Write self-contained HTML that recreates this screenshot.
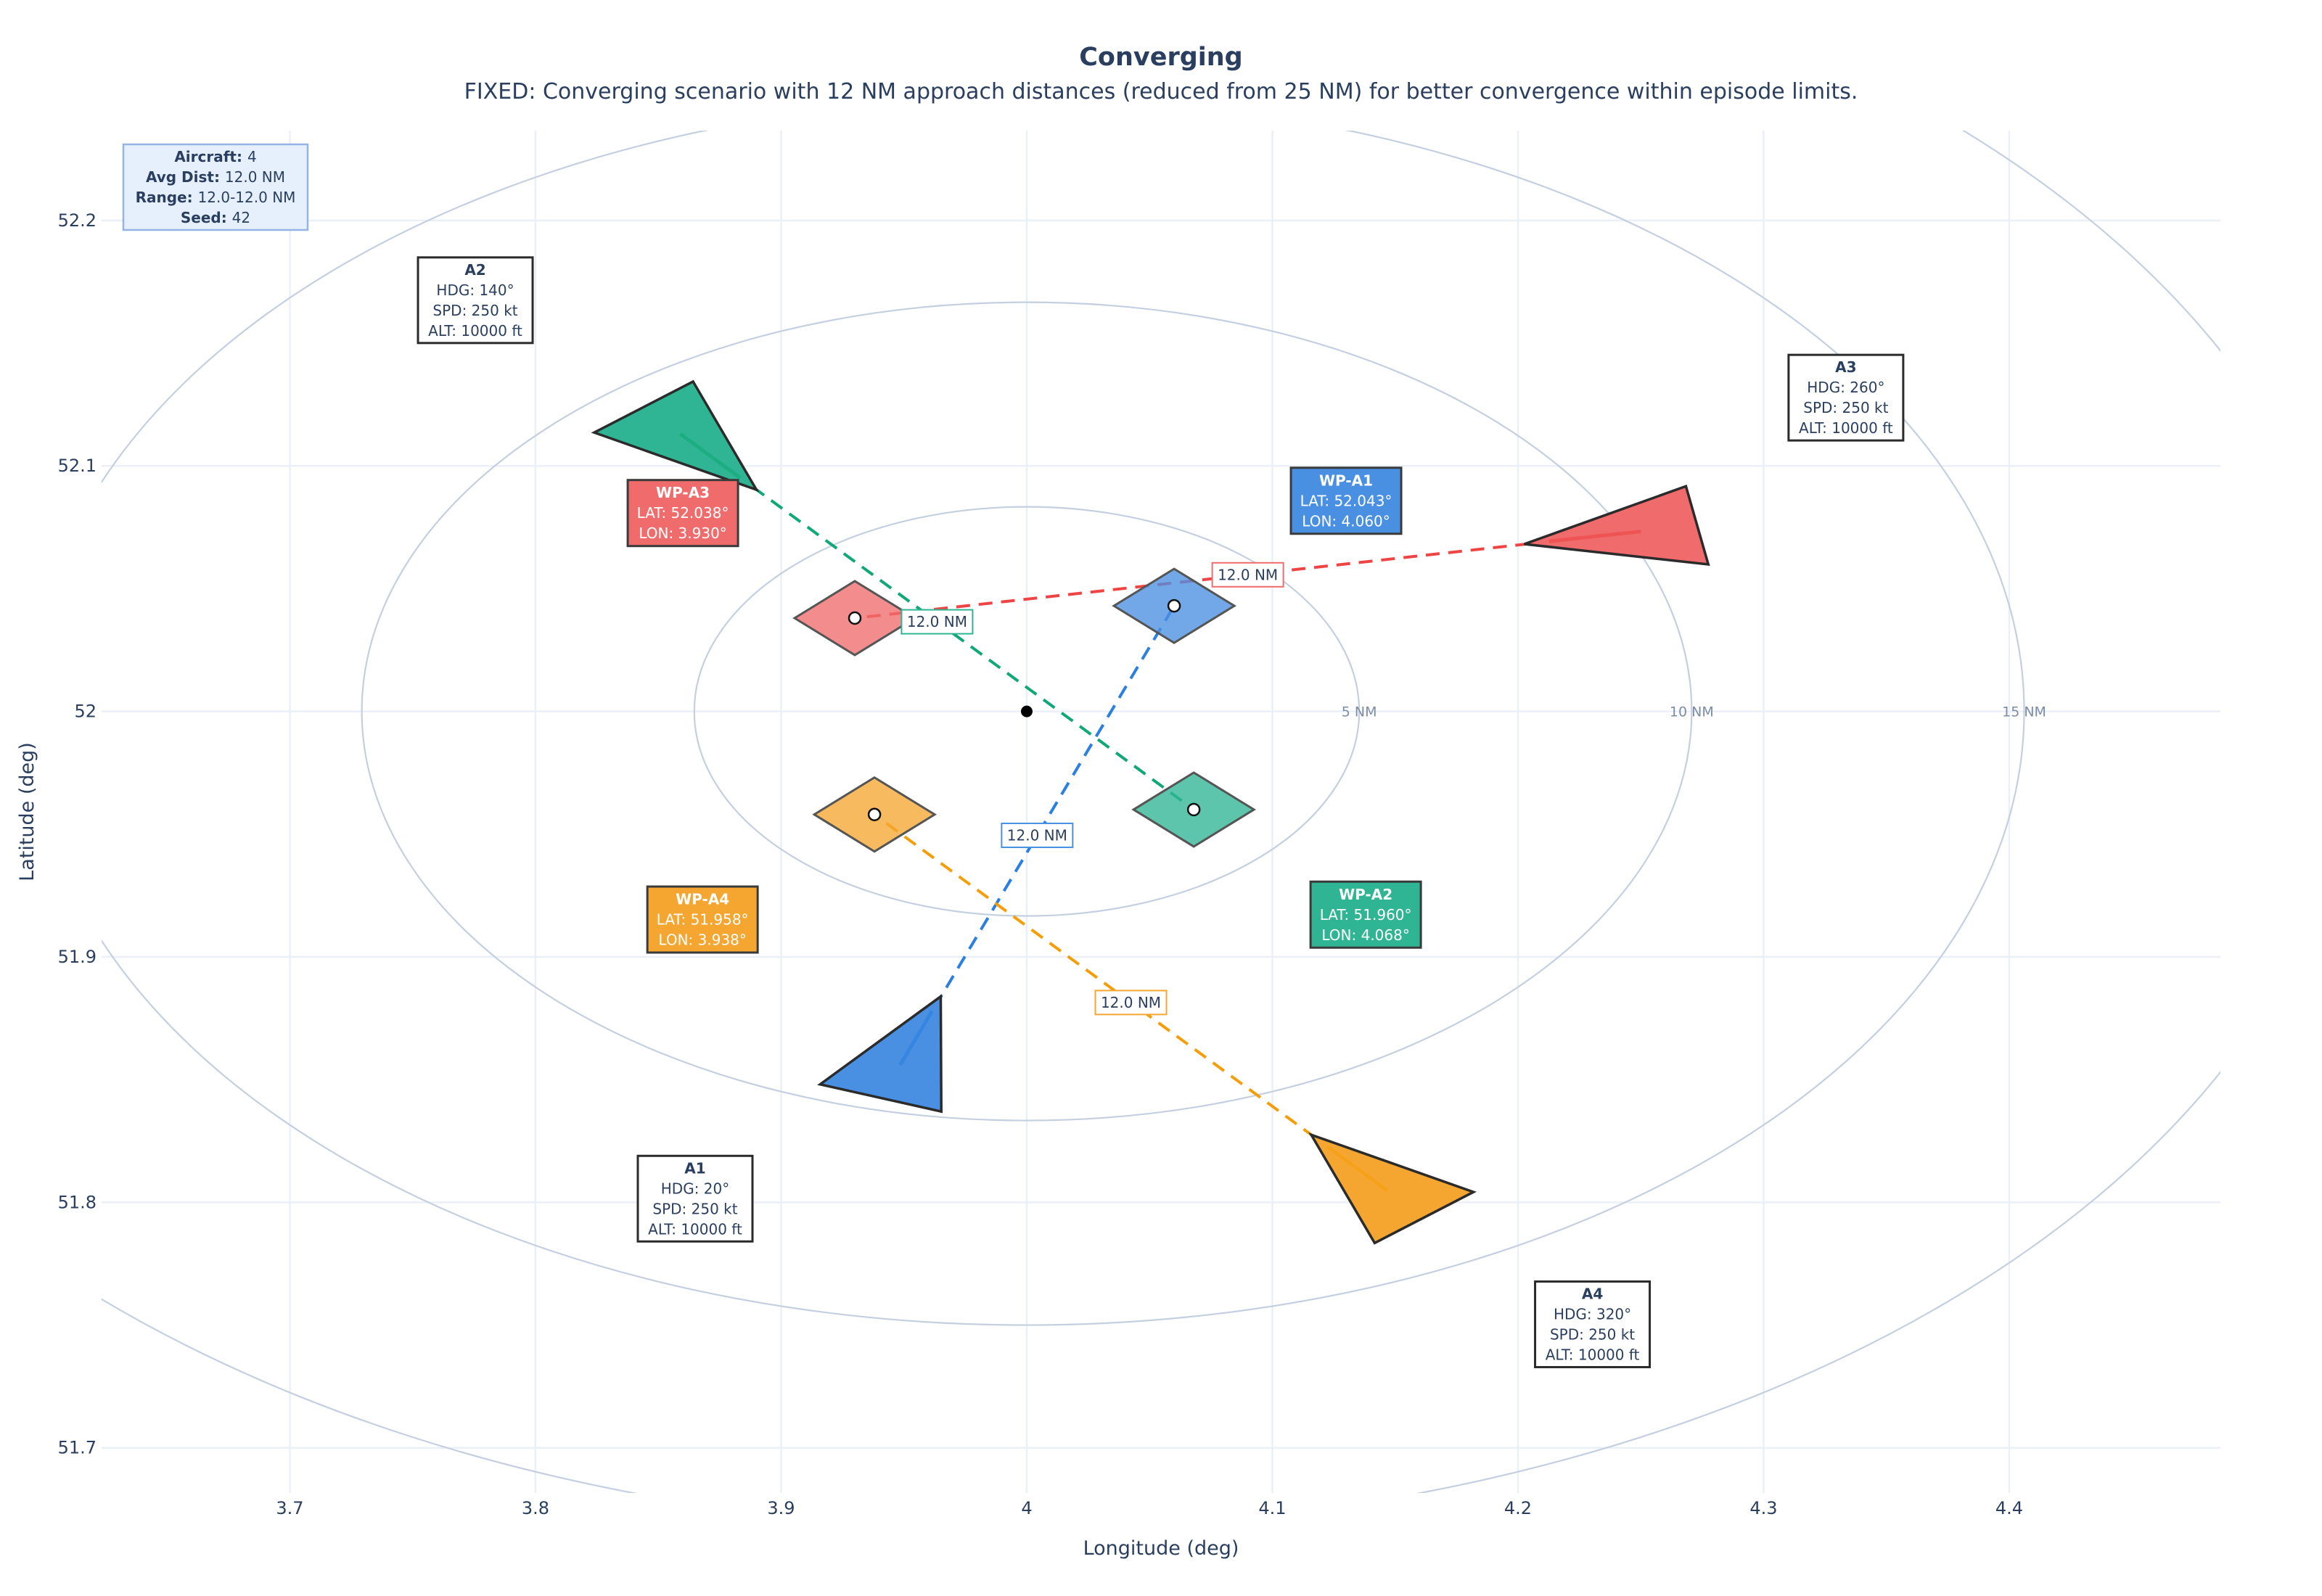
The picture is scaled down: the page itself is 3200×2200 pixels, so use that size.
<!DOCTYPE html>
<html><head><meta charset="utf-8"><title>Converging</title>
<style>
html,body{margin:0;padding:0;background:#fff;}
svg{display:block;font-family:"DejaVu Sans","Liberation Sans",sans-serif;}
</style></head>
<body>
<svg id="chart" width="3200" height="2200" viewBox="0 0 3200 2200" xmlns="http://www.w3.org/2000/svg">
<defs><clipPath id="plotclip"><rect x="140" y="180" width="2920" height="1878"/></clipPath></defs>
<text x="1600" y="90" text-anchor="middle" font-size="35" font-weight="bold" fill="#2a3f5f">Converging</text>
<text x="1600" y="136" text-anchor="middle" font-size="30" fill="#2a3f5f">FIXED: Converging scenario with 12 NM approach distances (reduced from 25 NM) for better convergence within episode limits.</text>
<g id="grid"></g>
<g id="rings" clip-path="url(#plotclip)"></g>
<g id="ticks"></g>
<g id="marks" clip-path="url(#plotclip)"></g>
<g id="notes"></g>
<text x="1600" y="2143" text-anchor="middle" font-size="27" fill="#2a3f5f">Longitude (deg)</text>
<text x="0" y="0" transform="translate(46,1119) rotate(-90)" text-anchor="middle" font-size="27" fill="#2a3f5f">Latitude (deg)</text>
</svg>
<script>
const xTicks = [3.7, 3.8, 3.9, 4.0, 4.1, 4.2, 4.3, 4.4];
const xTickLabels = ["3.7", "3.8", "3.9", "4", "4.1", "4.2", "4.3", "4.4"];
const yTicks = [51.7, 51.8, 51.9, 52.0, 52.1, 52.2];
const yTickLabels = ["51.7", "51.8", "51.9", "52", "52.1", "52.2"];
const ringRadiiNM = [5, 10, 15, 20];
const ringLabels = ["5 NM", "10 NM", "15 NM", ""];
const aircraftIds = ["A1", "A2", "A3", "A4"];
const aircraftLon = [3.9485, 3.859, 4.250, 4.1468];
const aircraftLat = [51.856, 52.113, 52.0733, 51.8048];
const aircraftHdg = [20, 140, 260, 320];
const aircraftSpd = [250, 250, 250, 250];
const aircraftAlt = [10000, 10000, 10000, 10000];
const wpLon = [4.060, 4.068, 3.930, 3.938];
const wpLat = [52.043, 51.960, 52.038, 51.958];
const distNM = [12.0, 12.0, 12.0, 12.0];
const centerLon = 4.0, centerLat = 52.0;

const colors = ["#4a90e2", "#2fb593", "#f06b6b", "#f5a631"];
const lineColors = ["#2a7fe0", "#10a876", "#ef4444", "#f59e0b"];
const X0 = 140, X1 = 3060, Y0 = 180, Y1 = 2058;
const LON0 = 3.62335, LON1 = 4.48597, LAT0 = 51.6816, LAT1 = 52.2366;
const xs = v => X0 + (v - LON0) / (LON1 - LON0) * (X1 - X0);
const ys = v => Y1 - (v - LAT0) / (LAT1 - LAT0) * (Y1 - Y0);
const NS = "http://www.w3.org/2000/svg";
const COSL = Math.cos(52 * Math.PI / 180);
function mk(tag, attrs, parent, text) {
  const e = document.createElementNS(NS, tag);
  for (const k in attrs) e.setAttribute(k, attrs[k]);
  if (text !== undefined) e.textContent = text;
  parent.appendChild(e); return e;
}
// NM offsets -> lon/lat
const offLon = (lon, eNM) => lon + eNM / 60 / COSL;
const offLat = (lat, nNM) => lat + nNM / 60;

const grid = document.getElementById('grid'), ticks = document.getElementById('ticks');
xTicks.forEach((t, i) => {
  const l = mk('line', {x1: xs(t), x2: xs(t), y1: Y0, y2: Y1, stroke: '#ebf0f8', 'stroke-width': 2.5}, grid);
  
  
  const tx = mk('text', {x: xs(t), y: 2087, 'text-anchor': 'middle', 'font-size': 24, fill: '#2a3f5f'}, ticks, xTickLabels[i]);
  
  
});
yTicks.forEach((t, i) => {
  const l = mk('line', {x1: X0, x2: X1, y1: ys(t), y2: ys(t), stroke: '#ebf0f8', 'stroke-width': 2.5}, grid);
  
  
  const tx = mk('text', {x: 133, y: ys(t) + 8, 'text-anchor': 'end', 'font-size': 24, fill: '#2a3f5f'}, ticks, yTickLabels[i]);
  
  
});

const rings = document.getElementById('rings');
ringRadiiNM.forEach((r, i) => {
  const cx = xs(centerLon), cy = ys(centerLat);
  const rx = xs(offLon(centerLon, r)) - cx, ry = cy - ys(offLat(centerLat, r));
  const el = mk('ellipse', {cx, cy, rx, ry, fill: 'none', stroke: '#c4cfe0', 'stroke-width': 2.2}, rings);
  
  
  if (ringLabels[i]) {
    const t = mk('text', {x: cx + rx, y: cy + 7, 'text-anchor': 'middle', 'font-size': 19, fill: '#7d8ca6'}, rings, ringLabels[i]);
    
    
  }
});

const marks = document.getElementById('marks'), notes = document.getElementById('notes');
function pt(lon, lat, hdg, along, perp) {
  const h = hdg * Math.PI / 180;
  const e = along * Math.sin(h) + perp * Math.cos(h);
  const n = along * Math.cos(h) - perp * Math.sin(h);
  return [xs(offLon(lon, e)), ys(offLat(lat, n))];
}
// dashed tracks
aircraftIds.forEach((id, i) => {
  const l = mk('line', {x1: xs(aircraftLon[i]), y1: ys(aircraftLat[i]), x2: xs(wpLon[i]), y2: ys(wpLat[i]), stroke: lineColors[i], 'stroke-width': 4, 'stroke-dasharray': '19 12'}, marks);
  
  
});
// waypoint diamonds
aircraftIds.forEach((id, i) => {
  const cx = xs(wpLon[i]), cy = ys(wpLat[i]);
  const d = mk('polygon', {points: `${cx-83},${cy} ${cx},${cy-51} ${cx+83},${cy} ${cx},${cy+51}`, fill: colors[i], 'fill-opacity': 0.78, stroke: '#555', 'stroke-width': 3}, marks);
  
  
});
// aircraft triangles
aircraftIds.forEach((id, i) => {
  const lo = aircraftLon[i], la = aircraftLat[i], h = aircraftHdg[i];
  const a = pt(lo, la, h, 1.78, 0), b = pt(lo, la, h, -0.86, 0.97), c = pt(lo, la, h, -0.86, -0.97);
  const tri = mk('polygon', {points: `${a} ${b} ${c}`, fill: colors[i], stroke: '#2b2b2b', 'stroke-width': 3.5, 'stroke-linejoin': 'miter'}, marks);
  
  
  const e = pt(lo, la, h, 1.4, 0);
  const ln = mk('line', {x1: xs(lo), y1: ys(la), x2: e[0], y2: e[1], stroke: lineColors[i], 'stroke-width': 5, 'stroke-opacity': 0.6}, marks);
  
  
});
// waypoint dots
aircraftIds.forEach((id, i) => {
  const c = mk('circle', {cx: xs(wpLon[i]), cy: ys(wpLat[i]), r: 8, fill: '#fff', stroke: '#111', 'stroke-width': 2.5}, marks);
  
  
});
const cd = mk('circle', {cx: xs(centerLon), cy: ys(centerLat), r: 8, fill: '#000'}, marks);



function box(cx, cy, w, h, fill, stroke, sw, lines, name, textColor, boldAll) {
  const g = mk('g', {}, notes);
  
  
  mk('rect', {x: cx - w/2, y: cy - h/2, width: w, height: h, fill, stroke, 'stroke-width': sw}, g);
  const lh = 28, top = cy - (lines.length - 1) * lh / 2 + 7;
  lines.forEach((ln, k) => {
    const t = mk('text', {x: cx, y: top + k * lh, 'text-anchor': 'middle', 'font-size': 20, fill: textColor}, g);
    if (Array.isArray(ln)) {
      mk('tspan', {'font-weight': 'bold'}, t, ln[0]);
      mk('tspan', {}, t, ln[1]);
    } else {
      t.textContent = ln;
      if (k === 0 && boldAll) t.setAttribute('font-weight', 'bold');
    }
  });
  return g;
}
// distance labels
aircraftIds.forEach((id, i) => {
  const mx = xs((aircraftLon[i] + wpLon[i]) / 2), my = ys((aircraftLat[i] + wpLat[i]) / 2);
  box(mx, my, 98, 33, '#fff', colors[i], 2, [distNM[i].toFixed(1) + ' NM'], 'distance-label-' + id.toLowerCase(), '#2a3f5f', false);
});
// aircraft info boxes
aircraftIds.forEach((id, i) => {
  const sx = Math.sign(aircraftLon[i] - centerLon), sy = Math.sign(aircraftLat[i] - centerLat);
  const cx = xs(aircraftLon[i] + sx * 0.0835), cy = ys(aircraftLat[i] + sy * 0.0545);
  box(cx, cy, 158, 118, '#fff', '#2b2b2b', 3, [id, 'HDG: ' + aircraftHdg[i] + '°', 'SPD: ' + aircraftSpd[i] + ' kt', 'ALT: ' + aircraftAlt[i] + ' ft'], 'info-box-' + id.toLowerCase(), '#2a3f5f', true);
});
// waypoint boxes
aircraftIds.forEach((id, i) => {
  const sx = Math.sign(wpLon[i] - centerLon), sy = Math.sign(wpLat[i] - centerLat);
  const cx = xs(wpLon[i] + sx * 0.070), cy = ys(wpLat[i] + sy * 0.0428);
  box(cx, cy, 152, 91, colors[i], '#3a3a3a', 3, ['WP-' + id, 'LAT: ' + wpLat[i].toFixed(3) + '°', 'LON: ' + wpLon[i].toFixed(3) + '°'], 'waypoint-box-wp-' + id.toLowerCase(), '#fff', true);
});
// stats box
const avg = distNM.reduce((a, b) => a + b, 0) / distNM.length;
box(297, 258, 254, 118, '#e6f0fd', '#94b4e6', 2.5, [['Aircraft: ', '' + aircraftIds.length], ['Avg Dist: ', avg.toFixed(1) + ' NM'], ['Range: ', Math.min(...distNM).toFixed(1) + '-' + Math.max(...distNM).toFixed(1) + ' NM'], ['Seed: ', '42']], 'stats-box', '#2a3f5f', false);
</script>
</body></html>
